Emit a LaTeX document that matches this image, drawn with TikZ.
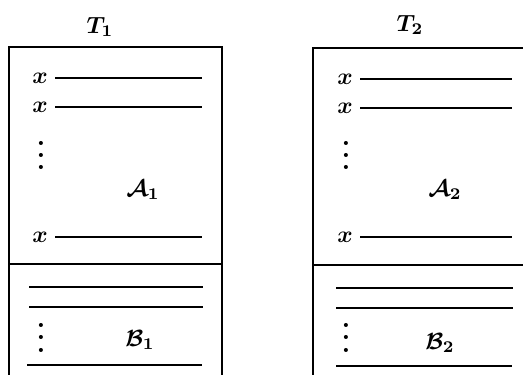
\documentclass[tikz,border=0pt]{standalone}
\usepackage{tikz}
\usetikzlibrary{positioning}
\tikzset{
  tablewall/.style={line width=1pt},
  rowline/.style={line width=0.9pt},
  varlabel/.style={font=\boldmath, inner sep=3pt},
  tabtitle/.style={font=\boldmath, inner sep=1pt},
  setlabel/.style={font=\boldmath, inner sep=1pt},
  dotmark/.style={font=\bfseries\large, inner sep=0pt},
}

\begin{document}
\begin{tikzpicture}[x=0.015cm, y=-0.015cm]
  \clip (0,0) rectangle (523,375);

  % First table
  \node[tabtitle] (t1) at (100,27) {$T_1$};
  \draw[tablewall] (9,380) -- (9,47) -- (222,47) -- (222,380);
  \draw[tablewall] (9,264) -- (222,264);
  \node[varlabel] (x11) at (40,78) {$x$};
  \node[varlabel] (x12) at (40,107) {$x$};
  \node[varlabel] (x1n) at (40,237) {$x$};
  \foreach \y [count=\k] in {143,155,167} { \node[dotmark] (d1a\k) at (41,\y) {.}; }
  \node[setlabel] (a1) at (143,190) {$\mathcal{A}_1$};
  \coordinate (r1) at (202,0);
  \foreach \s in {x11,x12,x1n} { \draw[rowline] (\s.east) -- (\s.east -| r1); }
  \draw[rowline] (29,287) -- (203,287);
  \draw[rowline] (29,307) -- (203,307);
  \foreach \y [count=\k] in {325,337,350} { \node[dotmark] (d1b\k) at (41,\y) {.}; }
  \node[setlabel] (b1) at (140,340) {$\mathcal{B}_1$};
  \draw[rowline] (27,365) -- (202,365);

  % Second table
  \node[tabtitle] (t2) at (410,25) {$T_2$};
  \draw[tablewall] (313,380) -- (313,48) -- (530,48);
  \draw[tablewall] (313,265) -- (530,265);
  \node[varlabel] (x21) at (345,79) {$x$};
  \node[varlabel] (x22) at (345,108) {$x$};
  \node[varlabel] (x2n) at (345,237) {$x$};
  \foreach \y [count=\k] in {143,155,167} { \node[dotmark] (d2a\k) at (346,\y) {.}; }
  \node[setlabel] (a2) at (445,190) {$\mathcal{A}_2$};
  \coordinate (r2) at (512,0);
  \foreach \s in {x21,x22,x2n} { \draw[rowline] (\s.east) -- (\s.east -| r2); }
  \draw[rowline] (336,288) -- (513,288);
  \draw[rowline] (336,308) -- (513,308);
  \foreach \y [count=\k] in {325,337,350} { \node[dotmark] (d2b\k) at (346,\y) {.}; }
  \node[setlabel] (b2) at (440,343) {$\mathcal{B}_2$};
  \draw[rowline] (336,366) -- (512,366);
\end{tikzpicture}
\end{document}
